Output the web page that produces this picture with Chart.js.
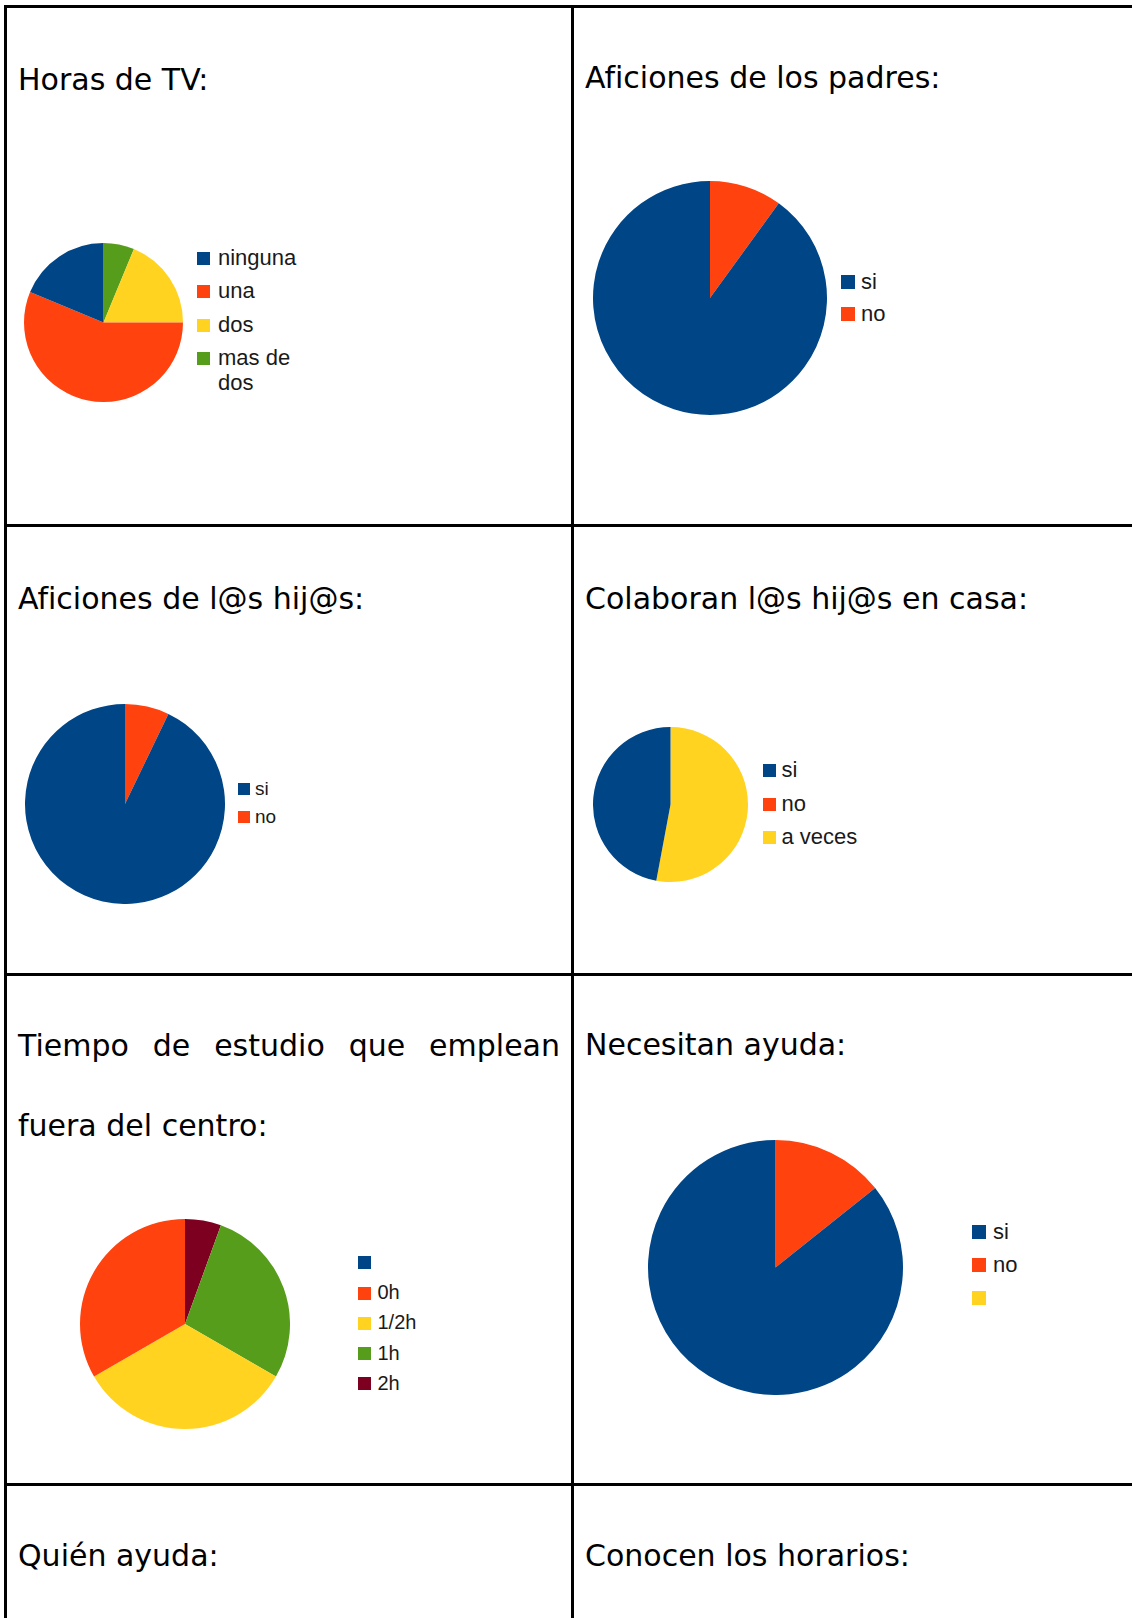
<!DOCTYPE html>
<html lang="es">
<head>
<meta charset="utf-8">
<title>Encuesta familias</title>
<script src="https://cdn.jsdelivr.net/npm/chart.js@4.4.1/dist/chart.umd.min.js"></script>
<style>
  html, body { margin: 0; padding: 0; background: #fff; }
  body { width: 1132px; height: 1618px; overflow: hidden; position: relative; }
  .cell { position: absolute; border: 3px solid #000; box-sizing: border-box; }
  .title {
    position: absolute; font-family: "Comic Sans MS", "DejaVu Sans", sans-serif;
    font-size: 30px; line-height: 80px; color: #000; white-space: nowrap;
  }
  .title.wrap { white-space: normal; text-align: justify; }
  canvas { position: absolute; }
  .item { position: absolute; font-family: "Liberation Sans", Arial, sans-serif; color: #1a1a1a; line-height: 25px; }
  .item .box { position: absolute; left: 0; }
  .item .txt { position: absolute; white-space: nowrap; }
</style>
</head>
<body>
<script>
// colores por defecto de LibreOffice
const COLORS = ['#004586', '#ff420e', '#ffd320', '#579d1c', '#7e0021'];

const titles = [
  'Horas de TV:',
  'Aficiones de los padres:',
  'Aficiones de l@s hij@s:',
  'Colaboran l@s hij@s en casa:',
  'Tiempo de estudio que emplean fuera del centro:',
  'Necesitan ayuda:',
  'Quién ayuda:',
  'Conocen los horarios:',
];

const tvLabels = ['ninguna', 'una', 'dos', 'mas de dos'];
const tvValues = [3, 9, 3, 1];

const padresLabels = ['si', 'no'];
const padresValues = [9, 1];

const hijosLabels = ['si', 'no'];
const hijosValues = [13, 1];

const colaboranLabels = ['si', 'no', 'a veces'];
const colaboranValues = [8, 0, 9];

const estudioLabels = ['', '0h', '1/2h', '1h', '2h'];
const estudioValues = [0, 6, 6, 5, 1];

const ayudaLabels = ['si', 'no', ''];
const ayudaValues = [6, 1, 0];

// rejilla de la tabla
const colX = [4, 571, 1138];
const rowY = [5, 524, 973, 1483, 1640];

// posición de los títulos (esquina sup. izq.)
const titlePos = [
  { x: 18, y: 40 }, { x: 585, y: 38 },
  { x: 18, y: 559 }, { x: 585, y: 559 },
  { x: 18, y: 1006, w: 542 }, { x: 585, y: 1005 },
  { x: 18, y: 1516 }, { x: 585, y: 1516 },
];

// geometría de cada tarta y su leyenda
const layouts = {
  tv:        { cx: 103.5, cy: 322,  r: 79.5,  boxX: 197,   textX: 218,   first: 258.3,  step: 33.5, font: 22, box: 13, textW: 85 },
  padres:    { cx: 710,   cy: 298,  r: 117,   boxX: 841,   textX: 861,   first: 282,    step: 32.2, font: 22, box: 14 },
  hijos:     { cx: 125,   cy: 804,  r: 100,   boxX: 237.5, textX: 255,   first: 789.3,  step: 28.2, font: 19, box: 12 },
  colaboran: { cx: 670,   cy: 804,  r: 77.5,  boxX: 762.5, textX: 781.5, first: 771,    step: 33.3, font: 22, box: 13 },
  estudio:   { cx: 184.5, cy: 1324, r: 105,   boxX: 358,   textX: 377.5, first: 1263,   step: 30.2, font: 20, box: 13 },
  ayuda:     { cx: 775.5, cy: 1267, r: 127.5, boxX: 972,   textX: 993,   first: 1231.7, step: 33.3, font: 22, box: 14 },
};

function el(tag, cls, parent) {
  const e = document.createElement(tag);
  if (cls) e.className = cls;
  (parent || document.body).appendChild(e);
  return e;
}

function drawGrid() {
  for (let r = 0; r < rowY.length - 1; r++) {
    for (let c = 0; c < colX.length - 1; c++) {
      const d = el('div', 'cell');
      d.style.left = colX[c] + 'px';
      d.style.top = rowY[r] + 'px';
      d.style.width = (colX[c + 1] - colX[c] + 3) + 'px';
      d.style.height = (rowY[r + 1] - rowY[r] + 3) + 'px';
    }
  }
}

function drawTitles() {
  titles.forEach((t, i) => {
    const p = titlePos[i];
    const d = el('div', 'title' + (p.w ? ' wrap' : ''));
    d.textContent = t;
    d.style.left = p.x + 'px';
    d.style.top = p.y + 'px';
    if (p.w) d.style.width = p.w + 'px';
  });
}

/**
 * LibreOffice dibuja en sentido antihorario desde las 12;
 * Chart.js va en sentido horario, así que se invierte el orden.
 */
function renderPie(labels, values, lay) {
  const size = Math.round(lay.r * 2);
  const canvas = el('canvas');
  canvas.width = size;
  canvas.height = size;
  canvas.style.left = (lay.cx - size / 2) + 'px';
  canvas.style.top = (lay.cy - size / 2) + 'px';

  const colors = COLORS.slice(0, labels.length);
  new Chart(canvas, {
    type: 'pie',
    data: {
      labels: labels.slice().reverse(),
      datasets: [{
        data: values.slice().reverse(),
        backgroundColor: colors.slice().reverse(),
        borderWidth: 0,
        hoverOffset: 0,
      }],
    },
    options: {
      responsive: false,
      animation: false,
      layout: { padding: 0 },
      plugins: { legend: { display: false }, tooltip: { enabled: false } },
    },
  });

  // leyenda
  const lh = 25;
  const baseline = (lh - 1.117 * lay.font) / 2 + 0.905 * lay.font;
  labels.forEach((lab, i) => {
    const item = el('div', 'item');
    const boxCenter = lay.first + i * lay.step;
    const top = boxCenter - (baseline - lay.box / 2);
    item.style.left = lay.boxX + 'px';
    item.style.top = top + 'px';
    item.style.fontSize = lay.font + 'px';

    const box = el('span', 'box', item);
    box.style.top = (baseline - lay.box) + 'px';
    box.style.width = lay.box + 'px';
    box.style.height = lay.box + 'px';
    box.style.background = colors[i];

    const txt = el('span', 'txt', item);
    txt.textContent = lab;
    txt.style.left = (lay.textX - lay.boxX) + 'px';
    txt.style.top = '0px';
    if (lay.textW) {
      txt.style.whiteSpace = 'normal';
      txt.style.width = lay.textW + 'px';
    }
  });
}

drawGrid();
drawTitles();
renderPie(tvLabels, tvValues, layouts.tv);
renderPie(padresLabels, padresValues, layouts.padres);
renderPie(hijosLabels, hijosValues, layouts.hijos);
renderPie(colaboranLabels, colaboranValues, layouts.colaboran);
renderPie(estudioLabels, estudioValues, layouts.estudio);
renderPie(ayudaLabels, ayudaValues, layouts.ayuda);
</script>
</body>
</html>
